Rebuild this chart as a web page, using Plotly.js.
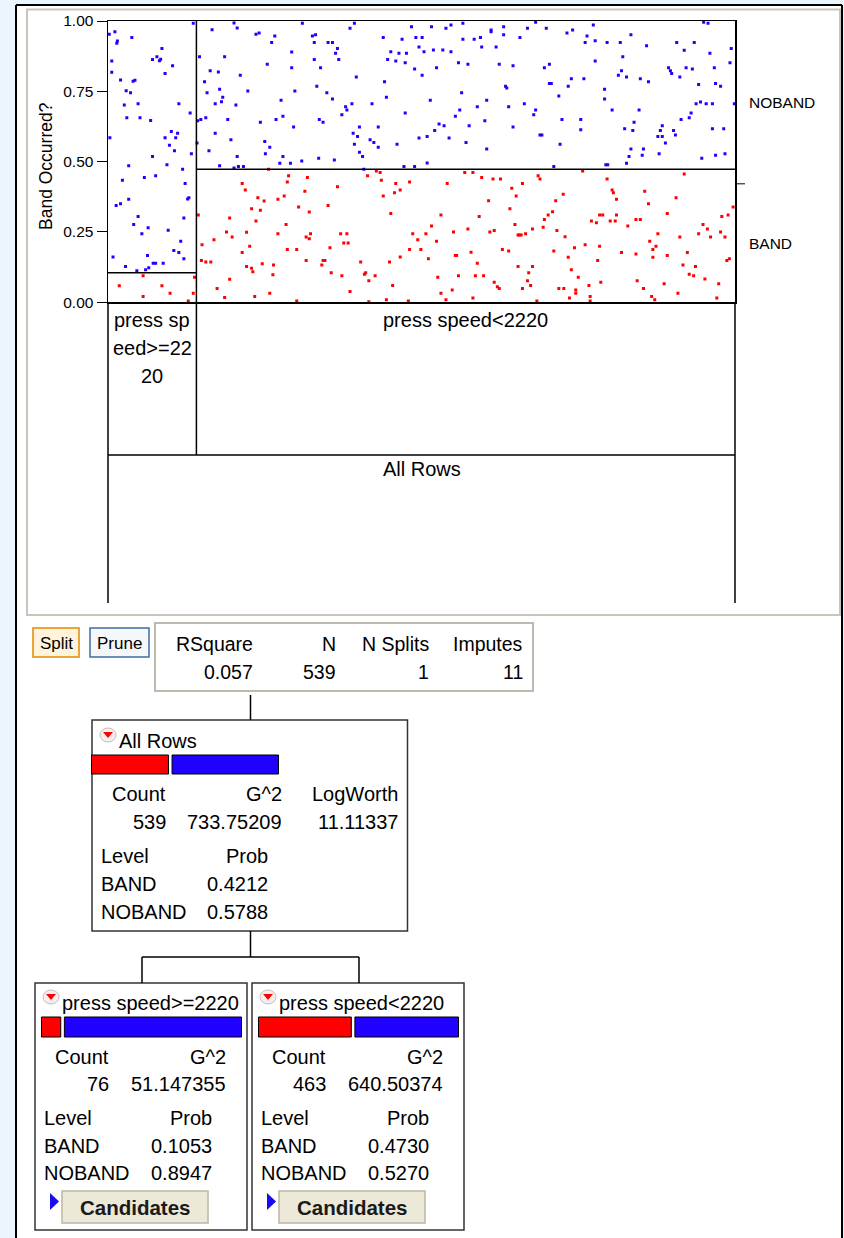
<!DOCTYPE html>
<html><head><meta charset="utf-8">
<script src="https://cdn.plot.ly/plotly-3.0.1.min.js"></script>
<style>html,body{margin:0;padding:0;background:#fff;}#chart{width:844px;height:1238px;}</style>
</head><body><div id="chart"></div>
<script>
// ---------------- DATA ----------------
const levelNames = ['BAND', 'NOBAND'];
const yTickVals = [0, 0.25, 0.5, 0.75, 1];
const yTickText = ['0.00', '0.25', '0.50', '0.75', '1.00'];
const yTitle = 'Band Occurred?';
const nodeLabels = ['All Rows', 'press speed>=2220', 'press speed<2220'];
const nodeCounts = [539, 76, 463];
const nodeG2 = ['733.75209', '51.147355', '640.50374'];
const nodeBandProb = [0.4212, 0.1053, 0.4730];
const nodeNobandProb = [0.5788, 0.8947, 0.5270];
const rootLogWorth = '11.11337';
const statNames = ['RSquare', 'N', 'N Splits', 'Imputes'];
const statValues = ['0.057', '539', '1', '11'];
const leftPartitionLines = ['press sp', 'eed>=22', '20'];

// jittered points: [row fraction, response position]
const nobandPoints = [
[0.002,0.953],[0.011,0.962],[0.014,0.921],[0.015,0.929],[0.038,0.941],[0.006,0.858],[0.006,0.818],[0.020,0.790],[0.040,0.786],[0.043,0.789],[0.029,0.752],[0.036,0.745],[0.026,0.701],[0.048,0.706],[0.030,0.656],[0.051,0.656],[0.068,0.646],[0.071,0.863],[0.078,0.873],[0.082,0.859],[0.084,0.864],[0.086,0.902],[0.091,0.813],[0.103,0.841],[0.113,0.706],[0.131,0.673],[0.003,0.585],[0.101,0.607],[0.091,0.585],[0.098,0.558],[0.108,0.585],[0.111,0.601],[0.106,0.539],[0.133,0.528],[0.071,0.518],[0.094,0.489],[0.033,0.485],[0.119,0.473],[0.023,0.434],[0.058,0.444],[0.076,0.450],[0.123,0.422],[0.013,0.344],[0.020,0.350],[0.033,0.366],[0.127,0.367],[0.129,0.372],[0.048,0.305],[0.041,0.277],[0.064,0.265],[0.054,0.244],[0.096,0.256],[0.121,0.300],[0.116,0.217],[0.008,0.161],[0.028,0.127],[0.063,0.166],[0.105,0.184],[0.113,0.177],[0.121,0.155],[0.046,0.112],[0.060,0.116],[0.065,0.123],[0.072,0.139],[0.076,0.139],[0.088,0.139],[0.136,0.992],
[0.146,0.873],[0.166,0.969],[0.201,0.993],[0.206,0.975],[0.236,0.953],[0.241,0.957],[0.261,0.924],[0.266,0.947],[0.293,0.890],[0.293,0.834],[0.186,0.873],[0.163,0.823],[0.176,0.819],[0.154,0.784],[0.158,0.745],[0.178,0.757],[0.183,0.729],[0.181,0.713],[0.171,0.706],[0.204,0.701],[0.211,0.807],[0.223,0.751],[0.254,0.846],[0.276,0.718],[0.298,0.751],[0.143,0.645],[0.148,0.650],[0.156,0.656],[0.191,0.650],[0.243,0.640],[0.268,0.650],[0.279,0.661],[0.296,0.623],[0.171,0.601],[0.196,0.578],[0.142,0.566],[0.161,0.539],[0.206,0.518],[0.250,0.572],[0.258,0.551],[0.251,0.528],[0.279,0.518],[0.274,0.494],[0.291,0.494],[0.178,0.485],[0.201,0.477],[0.208,0.483],[0.216,0.483],
[0.310,0.992],[0.386,0.974],[0.393,0.992],[0.326,0.947],[0.331,0.951],[0.329,0.924],[0.351,0.924],[0.358,0.924],[0.363,0.885],[0.366,0.902],[0.368,0.863],[0.329,0.863],[0.339,0.834],[0.396,0.801],[0.333,0.768],[0.349,0.745],[0.358,0.723],[0.379,0.695],[0.381,0.684],[0.389,0.706],[0.373,0.667],[0.337,0.650],[0.343,0.640],[0.391,0.601],[0.398,0.589],[0.393,0.562],[0.401,0.533],[0.406,0.518],[0.401,0.623],[0.431,0.623],[0.421,0.706],[0.418,0.578],[0.424,0.568],[0.431,0.551],[0.336,0.512],[0.361,0.506],[0.309,0.502],[0.408,0.473],
[0.439,0.941],[0.469,0.935],[0.484,0.980],[0.491,0.941],[0.501,0.941],[0.516,0.980],[0.539,0.974],[0.547,0.986],[0.566,0.992],[0.566,0.935],[0.584,0.935],[0.594,0.941],[0.611,0.968],[0.611,0.962],[0.631,0.980],[0.631,0.951],[0.657,0.941],[0.669,0.974],[0.682,0.996],[0.699,0.974],[0.732,0.957],[0.741,0.968],
[0.496,0.908],[0.504,0.891],[0.519,0.897],[0.534,0.897],[0.547,0.891],[0.451,0.891],[0.464,0.885],[0.476,0.885],[0.446,0.863],[0.459,0.858],[0.474,0.852],[0.489,0.829],[0.501,0.807],[0.524,0.834],[0.559,0.852],[0.574,0.846],[0.596,0.908],[0.619,0.908],[0.624,0.846],[0.646,0.841],[0.696,0.834],[0.704,0.846],[0.739,0.795],[0.734,0.768],
[0.441,0.784],[0.444,0.729],[0.514,0.718],[0.564,0.745],[0.634,0.768],[0.636,0.762],[0.704,0.778],[0.707,0.778],[0.719,0.733],
[0.474,0.673],[0.561,0.684],[0.554,0.661],[0.589,0.695],[0.604,0.718],[0.639,0.695],[0.664,0.706],[0.682,0.684],[0.679,0.667],[0.724,0.650],
[0.521,0.611],[0.528,0.634],[0.536,0.628],[0.509,0.589],[0.496,0.584],[0.544,0.584],[0.576,0.628],[0.601,0.645],[0.646,0.623],[0.689,0.595],[0.692,0.595],[0.571,0.568],[0.604,0.545],[0.721,0.562],[0.461,0.562],
[0.472,0.483],[0.489,0.483],[0.509,0.495],[0.711,0.483],
[0.774,0.986],[0.764,0.947],[0.761,0.924],[0.777,0.930],[0.796,0.924],[0.817,0.924],[0.834,0.951],[0.859,0.912],[0.907,0.924],[0.919,0.896],[0.935,0.924],[0.950,0.996],[0.957,0.992],[0.960,0.885],[0.994,0.902],[0.992,0.852],[0.967,0.834],[0.922,0.834],[0.932,0.829],[0.894,0.834],[0.897,0.823],[0.899,0.813],[0.912,0.801],[0.821,0.873],[0.777,0.858],[0.819,0.823],[0.814,0.807],[0.827,0.801],[0.849,0.795],[0.862,0.784],[0.759,0.795],[0.792,0.757],[0.792,0.723],[0.804,0.684],[0.847,0.684],[0.942,0.774],[0.969,0.778],[0.977,0.768],[0.938,0.706],[0.945,0.712],[0.954,0.706],[0.964,0.706],[0.999,0.706],[0.930,0.673],[0.927,0.656],[0.914,0.650],[0.754,0.650],[0.754,0.613],[0.839,0.640],[0.824,0.617],[0.837,0.611],[0.884,0.628],[0.881,0.611],[0.902,0.611],[0.905,0.595],[0.877,0.589],[0.884,0.589],[0.889,0.566],[0.964,0.617],[0.982,0.617],[0.834,0.545],[0.854,0.545],[0.831,0.518],[0.852,0.523],[0.879,0.528],[0.827,0.494],[0.794,0.489],[0.797,0.489],[0.947,0.512],[0.969,0.523],[0.984,0.528]
];
const bandPoints = [
[0.018,0.059],[0.056,0.094],[0.086,0.059],[0.099,0.032],[0.056,0.021],[0.128,0.005],[0.136,0.032],[0.138,0.089],
[0.256,0.473],[0.288,0.450],[0.286,0.428],[0.214,0.422],[0.219,0.399],[0.144,0.310],[0.194,0.300],[0.239,0.372],[0.229,0.333],[0.243,0.327],[0.249,0.360],[0.271,0.366],[0.281,0.378],[0.304,0.339],[0.189,0.250],[0.198,0.232],[0.221,0.249],[0.236,0.289],[0.284,0.277],[0.271,0.244],[0.169,0.222],[0.150,0.205],[0.286,0.188],[0.301,0.188],[0.226,0.199],[0.214,0.177],[0.149,0.149],[0.156,0.143],[0.164,0.143],[0.221,0.127],[0.229,0.121],[0.231,0.109],[0.246,0.137],[0.264,0.133],[0.263,0.098],[0.194,0.082],[0.174,0.049],[0.186,0.017],[0.234,0.021],[0.258,0.032],[0.301,0.005],
[0.318,0.444],[0.314,0.395],[0.321,0.321],[0.316,0.232],[0.321,0.226],[0.323,0.244],[0.316,0.149],[0.341,0.133],[0.343,0.149],[0.346,0.149],[0.356,0.105],[0.373,0.094],[0.386,0.038],[0.354,0.194],[0.371,0.244],[0.381,0.244],[0.376,0.211],[0.383,0.211],[0.366,0.411],[0.351,0.344],[0.414,0.450],[0.428,0.467],[0.434,0.461],[0.436,0.434],[0.439,0.378],[0.451,0.316],[0.457,0.389],[0.459,0.422],[0.466,0.399],[0.481,0.428],[0.403,0.143],[0.409,0.100],[0.411,0.105],[0.416,0.077],[0.426,0.094],[0.449,0.143],[0.454,0.060],[0.466,0.161],[0.481,0.188],[0.486,0.244],[0.494,0.222],[0.499,0.188],[0.507,0.244],[0.511,0.155],[0.516,0.271],[0.524,0.217],[0.531,0.310],[0.541,0.422],[0.551,0.250],[0.554,0.166],[0.556,0.166],[0.574,0.261],[0.579,0.178],[0.589,0.139],[0.592,0.305],[0.586,0.094],[0.599,0.094],[0.607,0.361],[0.609,0.250],[0.616,0.255],[0.629,0.188],[0.639,0.182],[0.641,0.333],[0.644,0.405],[0.649,0.277],[0.651,0.378],[0.654,0.239],[0.656,0.239],[0.659,0.239],[0.661,0.422],[0.666,0.244],[0.677,0.261],[0.686,0.450],[0.689,0.438],[0.694,0.267],[0.696,0.294],[0.702,0.310],[0.709,0.322],[0.714,0.361],[0.726,0.384],[0.716,0.255],[0.729,0.233],[0.744,0.194],[0.711,0.182],[0.734,0.160],[0.739,0.116],[0.654,0.127],[0.677,0.127],[0.671,0.105],[0.669,0.077],[0.674,0.060],[0.661,0.049],[0.616,0.071],[0.621,0.055],[0.624,0.049],[0.569,0.461],[0.582,0.461],[0.596,0.444],[0.614,0.438],[0.626,0.438],[0.559,0.094],[0.526,0.089],[0.531,0.032],[0.549,0.044],[0.539,0.009],[0.582,0.015],[0.684,0.005],[0.719,0.049],[0.727,0.049],[0.746,0.044],[0.746,0.032],[0.736,0.015],[0.416,0.002],[0.444,0.009],[0.479,0.005],[0.750,0.089],
[0.757,0.467],[0.796,0.438],[0.804,0.399],[0.806,0.389],[0.811,0.366],[0.856,0.395],[0.862,0.350],[0.906,0.372],[0.919,0.456],[0.784,0.310],[0.789,0.310],[0.811,0.310],[0.771,0.289],[0.779,0.283],[0.801,0.289],[0.809,0.289],[0.829,0.271],[0.842,0.294],[0.849,0.294],[0.892,0.316],[0.979,0.305],[0.989,0.310],[0.997,0.339],[0.949,0.277],[0.956,0.261],[0.977,0.250],[0.984,0.232],[0.942,0.244],[0.961,0.232],[0.912,0.232],[0.877,0.244],[0.864,0.217],[0.874,0.199],[0.869,0.188],[0.869,0.160],[0.892,0.166],[0.924,0.177],[0.819,0.177],[0.842,0.172],[0.781,0.149],[0.784,0.199],[0.761,0.205],[0.987,0.149],[0.991,0.155],[0.917,0.133],[0.937,0.127],[0.927,0.100],[0.934,0.094],[0.952,0.083],[0.974,0.066],[0.971,0.015],[0.909,0.032],[0.887,0.066],[0.844,0.077],[0.854,0.049],[0.867,0.021],[0.872,0.009],[0.786,0.071],[0.767,0.060],[0.769,0.021],[0.769,0.005]
];

// ---------------- LAYOUT HELPERS ----------------
const W = 844, H = 1238;
const FONT = 'Liberation Sans, Arial, Helvetica, sans-serif';
const RED = '#FF0000', BLUE = '#2000FF';
const X = p => p / W, Y = p => 1 - p / H;
const shapes = [], annotations = [];
function rect(x0, y0, x1, y1, lc, lw, fill, layer) {
  shapes.push({type:'rect', xref:'paper', yref:'paper', x0:X(x0), x1:X(x1), y0:Y(y1), y1:Y(y0),
    line:{color:lc || 'rgba(0,0,0,0)', width:lw || 0}, fillcolor:fill || 'rgba(0,0,0,0)', layer:layer || 'above'});
}
function seg(x0, y0, x1, y1, c, w) {
  shapes.push({type:'line', xref:'paper', yref:'paper', x0:X(x0), x1:X(x1), y0:Y(y0), y1:Y(y1), line:{color:c || '#000', width:w || 1.5}});
}
function poly(pts, fill, lc) {
  shapes.push({type:'path', xref:'paper', yref:'paper', path:'M' + pts.map(p => X(p[0]) + ',' + Y(p[1])).join('L') + 'Z',
    fillcolor:fill, line:{color:lc || fill, width:lc ? 1 : 0}});
}
function txt(t, x, y, anchor, size, extra) {
  annotations.push(Object.assign({text:t, x:X(x), y:Y(y), xref:'paper', yref:'paper', showarrow:false,
    xanchor:anchor || 'left', yanchor:'middle', borderpad:0, font:{family:FONT, size:size || 20, color:'#000'}}, extra || {}));
}

// frame
rect(0, 0, 16, H, null, 0, '#EAF5FE', 'below');
rect(0, 0, W, 5, null, 0, '#EAF5FE', 'below');
rect(842, 0, W, H, null, 0, '#EAF5FE', 'below');
seg(16, 5, 16, H, '#000', 2);
seg(16, 5, 842, 5, '#000', 2);
seg(842, 5, 842, H, '#000', 2);
rect(27, 9.5, 840, 615, '#C9C5BB', 2, null, 'below');

// plot geometry
const PL = 108, PR = 735, PT = 21, PB = 302.3;
const total = nodeCounts[0];
const splitFrac = nodeCounts[1] / total;
const splitPx = PL + splitFrac * (PR - PL);
const treeBottom = 455, colBottom = 603;

// partition splits (data coordinates)
shapes.push({type:'line', xref:'x', yref:'y', x0:0, x1:splitFrac, y0:nodeBandProb[1], y1:nodeBandProb[1], line:{color:'#000', width:1.5}});
shapes.push({type:'line', xref:'x', yref:'y', x0:splitFrac, x1:1, y0:nodeBandProb[2], y1:nodeBandProb[2], line:{color:'#000', width:1.5}});
seg(splitPx, PT, splitPx, treeBottom);
seg(PL, PB, PL, colBottom);
seg(PR, PB, PR, colBottom);
seg(PL, treeBottom, PR, treeBottom);
// overall level tick on right
shapes.push({type:'line', xref:'paper', yref:'y', x0:X(PR), x1:X(PR + 10), y0:nodeBandProb[0], y1:nodeBandProb[0], line:{color:'#000', width:1}});
annotations.push({text:levelNames[1], xref:'paper', yref:'y', x:X(747), y:(1 + nodeBandProb[0]) / 2, showarrow:false, xanchor:'left', yanchor:'middle', font:{family:FONT, size:15.5, color:'#000'}});
annotations.push({text:levelNames[0], xref:'paper', yref:'y', x:X(747), y:nodeBandProb[0] / 2, showarrow:false, xanchor:'left', yanchor:'middle', font:{family:FONT, size:15.5, color:'#000'}});

// partition labels
const leftCx = PL + splitFrac / 2 * (PR - PL);
leftPartitionLines.forEach((t, i) => txt(t, leftCx, 320 + i * 28, 'center', 20));
txt(nodeLabels[2], PL + (splitFrac + 1) / 2 * (PR - PL), 320, 'center', 20);
txt(nodeLabels[0], (PL + PR) / 2, 469, 'center', 20);

// y-axis title
txt(yTitle, 46, 166, 'center', 17.5, {textangle:-90});

// buttons
rect(33, 628, 79, 657, '#E9A53C', 2, '#FFF3D9');
txt('Split', 56, 643, 'center', 17);
rect(90, 628, 149, 657, '#3B6EA6', 1.5, '#F6F7FA');
txt('Prune', 119.5, 643, 'center', 17);

// stats box
rect(155, 623, 533, 691, '#BDB9AE', 2, '#fff');
const statRight = [254, 337, 430, 524];
statNames.forEach((s, i) => txt(s, statRight[i], 644, 'right', 19.5));
statValues.forEach((s, i) => txt(s, statRight[i], 672, 'right', 19.5));

// tree connectors
seg(250.5, 695, 250.5, 720, '#000', 1.5);
seg(250.5, 931, 250.5, 957, '#000', 1.5);
seg(142, 957, 359, 957, '#000', 1.5);
seg(142, 957, 142, 983, '#000', 1.5);
seg(359, 957, 359, 983, '#000', 1.5);

function icon(x, y) {
  shapes.push({type:'circle', xref:'paper', yref:'paper', x0:X(x), x1:X(x + 16), y0:Y(y + 14), y1:Y(y), fillcolor:'#F4EEEE', line:{color:'#C8BCBC', width:1}});
  poly([[x + 3, y + 4], [x + 13, y + 4], [x + 8, y + 10]], RED);
}

// bar subplots
const traces = [];
const axes = {};
function nodeBar(idx, L, R, T, B, p) {
  const w = R - L, h = B - T;
  axes['xaxis' + idx] = {domain:[X(L - 0.05 * w), X(R + 0.05 * w)], range:[-0.05, 1.05], anchor:'y' + idx,
    showgrid:false, zeroline:false, showticklabels:false, showline:false, ticks:'', fixedrange:true};
  axes['yaxis' + idx] = {domain:[Y(B + 0.25 * h), Y(T - 0.25 * h)], range:[-0.75, 0.75], anchor:'x' + idx,
    showgrid:false, zeroline:false, showticklabels:false, showline:false, ticks:'', fixedrange:true};
  traces.push({type:'bar', orientation:'h', y:[0], x:[p], base:[0], width:[1], xaxis:'x' + idx, yaxis:'y' + idx,
    marker:{color:RED, line:{color:'#000', width:1}}, hoverinfo:'skip', showlegend:false});
  traces.push({type:'bar', orientation:'h', y:[0], x:[1 - p], base:[p], width:[1], xaxis:'x' + idx, yaxis:'y' + idx,
    marker:{color:BLUE, line:{color:'#000', width:1}}, hoverinfo:'skip', showlegend:false});
  const g = 1.8 / w;
  shapes.push({type:'rect', xref:'x' + idx, yref:'y' + idx, x0:p - g, x1:p + g, y0:-0.6, y1:0.6, fillcolor:'#fff', line:{width:0}});
  [p - g, p + g].forEach(v => shapes.push({type:'line', xref:'x' + idx, yref:'y' + idx, x0:v, x1:v, y0:-0.5, y1:0.5, line:{color:'#000', width:1}}));
}

// root node
rect(92, 720, 407.5, 931, '#333', 1.5, '#fff', 'below');
icon(100, 728);
txt(nodeLabels[0], 118, 741, 'left', 20);
nodeBar(2, 91.5, 278.5, 755, 774, nodeBandProb[0]);
txt('Count', 167, 794, 'right', 20); txt('G^2', 283, 794, 'right', 20); txt('LogWorth', 399, 794, 'right', 20);
txt(String(nodeCounts[0]), 167, 822, 'right', 20); txt(nodeG2[0], 283, 822, 'right', 20); txt(rootLogWorth, 399, 822, 'right', 20);
txt('Level', 100, 856, 'left', 20); txt('Prob', 268.5, 856, 'right', 20);
txt(levelNames[0], 100, 884, 'left', 20); txt(nodeBandProb[0].toFixed(4), 268.5, 884, 'right', 20);
txt(levelNames[1], 100, 912, 'left', 20); txt(nodeNobandProb[0].toFixed(4), 268.5, 912, 'right', 20);

// child nodes
[1, 2].forEach((n, k) => {
  const dx = k * 217;
  rect(35 + dx, 983, 247 + dx, 1230, '#333', 1.5, '#fff', 'below');
  icon(43 + dx, 990);
  txt(nodeLabels[n], 61 + dx, 1003, 'left', 20);
  nodeBar(3 + k, 41.5 + dx, 241.5 + dx, 1017, 1037, nodeBandProb[n]);
  txt('Count', 110 + dx, 1057, 'right', 20); txt('G^2', 227 + dx, 1057, 'right', 20);
  txt(String(nodeCounts[n]), 110 + dx, 1084, 'right', 20); txt(nodeG2[n], 227 + dx, 1084, 'right', 20);
  txt('Level', 43 + dx, 1118, 'left', 20); txt('Prob', 212.5 + dx, 1118, 'right', 20);
  txt(levelNames[0], 43 + dx, 1146, 'left', 20); txt(nodeBandProb[n].toFixed(4), 212.5 + dx, 1146, 'right', 20);
  txt(levelNames[1], 43 + dx, 1173, 'left', 20); txt(nodeNobandProb[n].toFixed(4), 212.5 + dx, 1173, 'right', 20);
  poly([[50 + dx, 1193], [50 + dx, 1210], [59 + dx, 1201.5]], '#1A0AF0');
  rect(62 + dx, 1191, 208 + dx, 1223, '#BDB8A2', 1.5, '#ECE9D8');
  txt('<b>Candidates</b>', 135 + dx, 1207, 'center', 20.5, {font:{family:FONT, size:20.5, color:'#1a1a1a'}});
});

// scatter traces
traces.unshift(
  {type:'scatter', mode:'markers', name:levelNames[1], x:nobandPoints.map(p => p[0]), y:nobandPoints.map(p => p[1]),
    marker:{symbol:'square', size:3, color:BLUE, line:{width:0}}, hoverinfo:'skip', showlegend:false},
  {type:'scatter', mode:'markers', name:levelNames[0], x:bandPoints.map(p => p[0]), y:bandPoints.map(p => p[1]),
    marker:{symbol:'square', size:3, color:RED, line:{width:0}}, hoverinfo:'skip', showlegend:false}
);

const layout = Object.assign({
  width:W, height:H, margin:{l:0, r:0, t:0, b:0}, paper_bgcolor:'#fff', plot_bgcolor:'rgba(0,0,0,0)', showlegend:false,
  barmode:'overlay',
  xaxis:{domain:[X(PL), X(PR)], range:[0, 1], showline:true, mirror:true, linecolor:'#000', linewidth:1.5,
    showgrid:false, zeroline:false, showticklabels:false, ticks:'', fixedrange:true},
  yaxis:{domain:[Y(PB), Y(PT)], range:[0, 1], tickvals:yTickVals, ticktext:yTickText, ticks:'outside', ticklen:10,
    tickwidth:1, tickcolor:'#000', showline:true, mirror:true, linecolor:'#000', linewidth:1.5, showgrid:false,
    zeroline:false, tickfont:{family:FONT, size:15.5, color:'#000'}, fixedrange:true},
  shapes:shapes, annotations:annotations
}, axes);

Plotly.newPlot('chart', traces, layout, {staticPlot:true, displayModeBar:false});
</script>
</body></html>
